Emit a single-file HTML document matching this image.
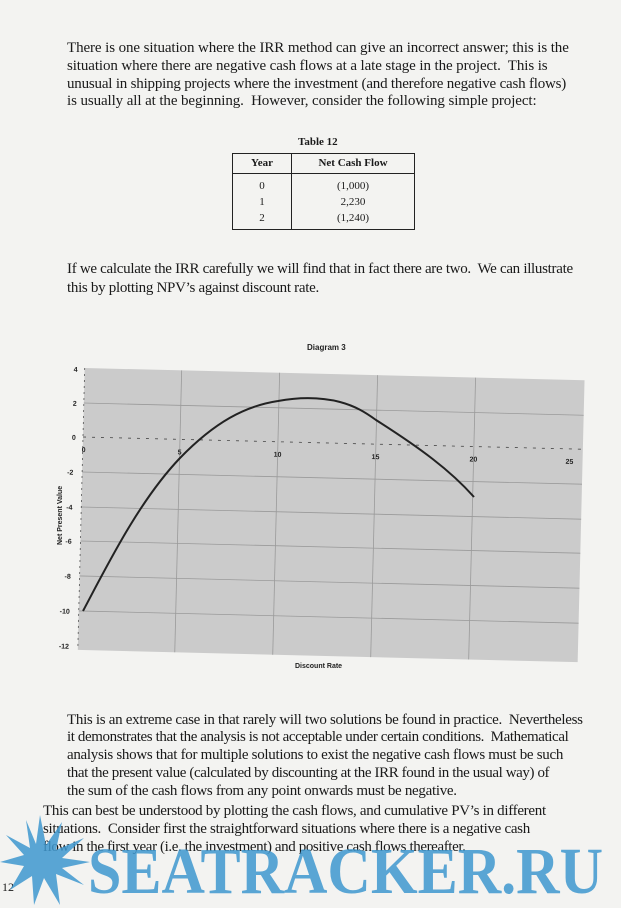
<!DOCTYPE html>
<html><head><meta charset="utf-8"><style>
body{margin:0;width:621px;height:908px;background:#f3f3f1;position:relative;overflow:hidden;font-family:"Liberation Serif",serif;color:#1a1a1a}
.l{position:absolute;left:67px;font-size:15px;white-space:nowrap;line-height:18px}
</style></head><body>
<div class="l" style="top:39px;letter-spacing:-0.1px">There is one situation where the IRR method can give an incorrect answer; this is the</div>
<div class="l" style="top:57px;letter-spacing:-0.1px">situation where there are negative cash flows at a late stage in the project.&nbsp; This is</div>
<div class="l" style="top:75px;letter-spacing:-0.2px">unusual in shipping projects where the investment (and therefore negative cash flows)</div>
<div class="l" style="top:92px;letter-spacing:-0.1px">is usually all at the beginning.&nbsp; However, consider the following simple project:</div>
<div style="position:absolute;left:298px;top:136px;font-size:11px;font-weight:bold">Table 12</div>
<div style="position:absolute;left:232px;top:153px;width:181px;height:75px;border:1.5px solid #222;font-size:11px">
<div style="position:absolute;left:58px;top:0;width:1px;height:75px;background:#222"></div>
<div style="position:absolute;left:0;top:19px;width:181px;height:1px;background:#222"></div>
<div style="position:absolute;left:0;width:58px;top:3px;text-align:center;font-weight:bold">Year</div>
<div style="position:absolute;left:59px;width:122px;top:3px;text-align:center;font-weight:bold">Net Cash Flow</div>
<div style="position:absolute;left:0;width:58px;top:24px;text-align:center;line-height:16px">0<br>1<br>2</div>
<div style="position:absolute;left:59px;width:122px;top:24px;text-align:center;line-height:16px">(1,000)<br>2,230<br>(1,240)</div>
</div>
<div class="l" style="top:260px;letter-spacing:-0.3px">If we calculate the IRR carefully we will find that in fact there are two.&nbsp; We can illustrate</div>
<div class="l" style="top:279px;letter-spacing:-0.3px">this by plotting NPV’s against discount rate.</div>

<svg style="position:absolute;left:0;top:0" width="621" height="908">
<text x="307" y="350" font-family="Liberation Sans,sans-serif" font-size="8" font-weight="bold" fill="#222">Diagram 3</text>
<g transform="rotate(1.4 83 437)">
<rect x="83" y="368" width="500" height="282" fill="#cbcbcb"/>
<g stroke="#9a9a9a" stroke-width="0.8">
<line x1="83" y1="403" x2="583" y2="403"/><line x1="83" y1="472" x2="583" y2="472"/><line x1="83" y1="507" x2="583" y2="507"/><line x1="83" y1="541" x2="583" y2="541"/><line x1="83" y1="576" x2="583" y2="576"/><line x1="83" y1="611" x2="583" y2="611"/>
<line x1="180" y1="368" x2="180" y2="650"/><line x1="278" y1="368" x2="278" y2="650"/><line x1="376" y1="368" x2="376" y2="650"/><line x1="474" y1="368" x2="474" y2="650"/>
</g>
<line x1="83" y1="437" x2="583" y2="437" stroke="#444" stroke-width="0.8" stroke-dasharray="3,6"/>
<line x1="83" y1="368" x2="83" y2="650" stroke="#555" stroke-width="0.8" stroke-dasharray="2,4"/>
<g font-family="Liberation Sans,sans-serif" font-size="7" font-weight="bold" fill="#222">
<text x="72" y="372">4</text><text x="72" y="406">2</text><text x="72" y="440">0</text><text x="68" y="475">-2</text><text x="68" y="510">-4</text><text x="68" y="544">-6</text><text x="68" y="579">-8</text><text x="64" y="614">-10</text><text x="64" y="649">-12</text>
<text x="82" y="452">0</text><text x="178" y="452">5</text><text x="274" y="452">10</text><text x="372" y="452">15</text><text x="470" y="452">20</text><text x="566" y="452">25</text>
</g>
</g>
<path d="M83 611 C110 560,140 500,180 458 C215 422,245 406,278 401 C300 397,320 397,340 402 C355 406,365 412,376 420 C420 448,450 470,474 497" fill="none" stroke="#222" stroke-width="2"/>
<text x="0" y="0" transform="translate(62 545) rotate(-90)" font-family="Liberation Sans,sans-serif" font-size="7" font-weight="bold" fill="#222">Net Present Value</text>
<text x="295" y="668" font-family="Liberation Sans,sans-serif" font-size="7" font-weight="bold" fill="#222">Discount Rate</text>
</svg>

<div class="l" style="top:711px;letter-spacing:-0.3px">This is an extreme case in that rarely will two solutions be found in practice.&nbsp; Nevertheless</div>
<div class="l" style="top:728px;letter-spacing:-0.4px">it demonstrates that the analysis is not acceptable under certain conditions.&nbsp; Mathematical</div>
<div class="l" style="top:746px;letter-spacing:-0.3px">analysis shows that for multiple solutions to exist the negative cash flows must be such</div>
<div class="l" style="top:764px;letter-spacing:-0.4px">that the present value (calculated by discounting at the IRR found in the usual way) of</div>
<div class="l" style="top:782px;letter-spacing:-0.3px">the sum of the cash flows from any point onwards must be negative.</div>
<div class="l" style="top:802px;left:43px;letter-spacing:-0.3px">This can best be understood by plotting the cash flows, and cumulative PV’s in different</div>
<div class="l" style="top:820px;left:43px;letter-spacing:-0.3px">situations.&nbsp; Consider first the straightforward situations where there is a negative cash</div>
<div class="l" style="top:838px;left:43px;letter-spacing:-0.4px">flow in the first year (i.e. the investment) and positive cash flows thereafter.</div>
<div style="position:absolute;left:2px;top:880px;font-size:12px">12</div>
<svg style="position:absolute;left:0;top:0;opacity:0.85" width="621" height="908">
<g fill="#3f98cf">
<polygon points="40,815 46,845 62,822 56,850 84,838 62,858 90,862 62,868 84,885 56,874 60,905 44,878 34,905 32,876 10,890 24,866 0,862 24,855 6,835 30,848 26,820 36,844"/>
<text x="88" y="893" font-family="Liberation Serif,serif" font-weight="bold" font-size="66" textLength="515" lengthAdjust="spacingAndGlyphs">SEATRACKER.RU</text>
</g>
</svg>
</body></html>
